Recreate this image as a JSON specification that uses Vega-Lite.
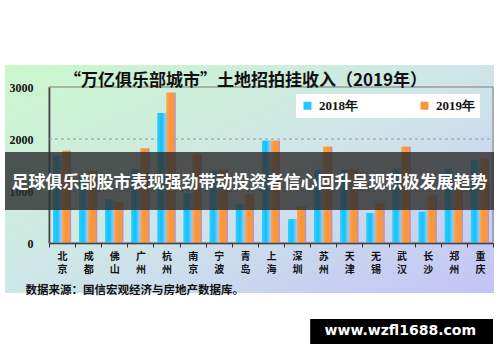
{
  "$schema": "https://vega.github.io/schema/vega-lite/v6.json",
  "width": 489,
  "height": 228,
  "autosize": {"type": "none"},
  "padding": {"left": 5, "top": 65, "right": 6, "bottom": 69},
  "background": "white",
  "config": {
    "font": "Noto Sans CJK SC",
    "view": {
      "stroke": null,
      "fill": {"gradient": "linear", "x1": 0, "y1": 0, "x2": 1, "y2": 1,
        "stops": [{"offset": 0, "color": "#cbf7cc"}, {"offset": 0.5, "color": "#cfe6e8"}, {"offset": 1, "color": "#c3c3f6"}]}
    }
  },
  "title": {
    "text": "“万亿俱乐部城市”土地招拍挂收入（2019年）",
    "anchor": "middle",
    "fontSize": 17,
    "fontWeight": "bold",
    "font": "Noto Sans CJK SC",
    "color": "#111111",
    "offset": -42,
    "baseline": "bottom",
    "dx": -4
  },
  "resolve": {"axis": {"x": "independent", "y": "independent"}},
  "datasets": {
    "land": [
      {"city": "北京", "year": "2018年", "value": 1680}, {"city": "北京", "year": "2019年", "value": 1775},
      {"city": "成都", "year": "2018年", "value": 1300}, {"city": "成都", "year": "2019年", "value": 1390},
      {"city": "佛山", "year": "2018年", "value": 835}, {"city": "佛山", "year": "2019年", "value": 790},
      {"city": "广州", "year": "2018年", "value": 1415}, {"city": "广州", "year": "2019年", "value": 1815},
      {"city": "杭州", "year": "2018年", "value": 2500}, {"city": "杭州", "year": "2019年", "value": 2890},
      {"city": "南京", "year": "2018年", "value": 955}, {"city": "南京", "year": "2019年", "value": 1700},
      {"city": "宁波", "year": "2018年", "value": 1390}, {"city": "宁波", "year": "2019年", "value": 1410},
      {"city": "青岛", "year": "2018年", "value": 740}, {"city": "青岛", "year": "2019年", "value": 940},
      {"city": "上海", "year": "2018年", "value": 1965}, {"city": "上海", "year": "2019年", "value": 1965},
      {"city": "深圳", "year": "2018年", "value": 455}, {"city": "深圳", "year": "2019年", "value": 700},
      {"city": "苏州", "year": "2018年", "value": 1390}, {"city": "苏州", "year": "2019年", "value": 1850},
      {"city": "天津", "year": "2018年", "value": 1400}, {"city": "天津", "year": "2019年", "value": 1410},
      {"city": "无锡", "year": "2018年", "value": 575}, {"city": "无锡", "year": "2019年", "value": 760},
      {"city": "武汉", "year": "2018年", "value": 1430}, {"city": "武汉", "year": "2019年", "value": 1850},
      {"city": "长沙", "year": "2018年", "value": 600}, {"city": "长沙", "year": "2019年", "value": 915},
      {"city": "郑州", "year": "2018年", "value": 1430}, {"city": "郑州", "year": "2019年", "value": 1250},
      {"city": "重庆", "year": "2018年", "value": 1585}, {"city": "重庆", "year": "2019年", "value": 1620}
    ]
  },
  "layer": [
    {
      "data": {"values": [{"g": 1000}, {"g": 2000}]},
      "mark": {"type": "rule", "color": "#9a9a9a", "strokeDash": [3, 3], "strokeWidth": 1},
      "encoding": {
        "x": {"datum": "北京", "bandPosition": 0, "axis": null},
        "x2": {"datum": "重庆", "bandPosition": 1},
        "y": {"field": "g", "type": "quantitative", "axis": null}
      }
    },
    {
      "data": {"name": "land"},
      "mark": {"type": "bar", "strokeWidth": 0},
      "encoding": {
        "x": {
          "field": "city", "type": "nominal", "sort": null,
          "scale": {"domain": ["北京","成都","佛山","广州","杭州","南京","宁波","青岛","上海","深圳","苏州","天津","无锡","武汉","长沙","郑州","重庆"], "range": [44, 488], "paddingInner": 0, "paddingOuter": 0},
          "axis": {
            "orient": "bottom", "offset": -50, "domainColor": "#111111", "domainWidth": 1.5,
            "tickBand": "extent", "tickSize": 4, "tickColor": "#333333", "labelAngle": 0,
            "labelExpr": "[substring(datum.label,0,1), substring(datum.label,1,2)]",
            "labelFontSize": 10, "labelFontWeight": "bold", "labelLineHeight": 13, "labelBaseline": "top",
            "labelPadding": 4, "labelColor": "#111111", "labelFont": "Noto Sans CJK SC",
            "title": "数据来源：国信宏观经济与房地产数据库。", "titleAnchor": "start", "titleAlign": "left",
            "titleX": 20, "titleY": 50, "titleBaseline": "alphabetic", "titleFontSize": 11.5, "titleFontWeight": "bold",
            "titleColor": "#111111", "titleFont": "Noto Sans CJK SC"
          }
        },
        "xOffset": {"field": "year", "type": "nominal", "scale": {"domain": ["2018年", "2019年"], "paddingOuter": 0.45, "paddingInner": 0}},
        "y": {
          "field": "value", "type": "quantitative",
          "scale": {"domain": [0, 3000], "range": [178, 22], "nice": false},
          "axis": {
            "orient": "left", "offset": -44, "values": [0, 1000, 2000, 3000], "format": "d", "grid": false,
            "domainColor": "#111111", "domainWidth": 1.5, "tickSize": 0, "labelPadding": 16,
            "labelFont": "Liberation Serif", "labelFontWeight": "bold", "labelFontSize": 12, "labelColor": "#111111",
            "title": null
          }
        },
        "color": {
          "field": "year", "type": "nominal",
          "scale": {"domain": ["2018年", "2019年"], "range": ["#22c8fb", "#f7963c"]},
          "legend": {
            "orient": "none", "legendX": 291, "legendY": 29, "direction": "horizontal", "title": null,
            "fillColor": "white", "padding": 5, "symbolType": "square", "symbolSize": 64, "symbolStrokeWidth": 0,
            "labelFont": "Liberation Serif", "labelFontWeight": "bold", "labelFontSize": 13, "labelColor": "#111111",
            "columnPadding": 60, "labelOffset": 5
          }
        }
      }
    },
    {
      "data": {"name": "land"},
      "transform": [{"filter": "datum.year === '2018年'"}],
      "mark": {"type": "bar", "strokeWidth": 0,
        "fill": {"gradient": "linear", "x1": 0, "y1": 0, "x2": 1, "y2": 0, "stops": [{"offset": 0, "color": "#33cdfb"}, {"offset": 0.45, "color": "#0cc4fb"}, {"offset": 1, "color": "#b0c8fa"}]}},
      "encoding": {
        "x": {"field": "city", "type": "nominal", "sort": null, "axis": null},
        "xOffset": {"field": "year", "type": "nominal"},
        "y": {"field": "value", "type": "quantitative", "axis": null}
      }
    },
    {
      "data": {"name": "land"},
      "transform": [{"filter": "datum.year === '2019年'"}],
      "mark": {"type": "bar", "strokeWidth": 0,
        "fill": {"gradient": "linear", "x1": 0, "y1": 0, "x2": 1, "y2": 0, "stops": [{"offset": 0, "color": "#f4a860"}, {"offset": 0.4, "color": "#ff9433"}, {"offset": 0.75, "color": "#f79a3e"}, {"offset": 1, "color": "#a98ee6"}]}},
      "encoding": {
        "x": {"field": "city", "type": "nominal", "sort": null, "axis": null},
        "xOffset": {"field": "year", "type": "nominal"},
        "y": {"field": "value", "type": "quantitative", "axis": null}
      }
    },
    {
      "data": {"values": [{}]},
      "mark": {"type": "rect", "fill": null, "fillOpacity": 0, "stroke": "#7a7a7a", "strokeWidth": 1},
      "encoding": {
        "x": {"datum": "北京", "bandPosition": 0, "axis": null},
        "x2": {"datum": "重庆", "bandPosition": 1},
        "y": {"datum": 0, "type": "quantitative", "axis": null},
        "y2": {"datum": 3000}
      }
    },
    {
      "data": {"values": [{"caption": "足球俱乐部股市表现强劲带动投资者信心回升呈现积极发展趋势"}]},
      "layer": [
        {
          "mark": {"type": "rect", "fill": "#2f2f2f", "opacity": 0.82},
          "encoding": {
            "y": {"datum": 1750, "type": "quantitative", "axis": null},
            "y2": {"datum": 635}
          }
        },
        {
          "mark": {"type": "text", "color": "white", "fontSize": 17, "fontWeight": "bold", "font": "Noto Sans CJK SC", "baseline": "middle", "align": "center"},
          "encoding": {
            "y": {"datum": 1154, "type": "quantitative", "axis": null},
            "text": {"field": "caption"}
          }
        }
      ]
    },
    {
      "data": {"values": [{"site": "www.wzfl1688.com"}]},
      "layer": [
        {
          "mark": {"type": "rect", "fill": "black"},
          "encoding": {
            "x": {"datum": "苏州", "bandPosition": 0, "axis": null},
            "x2": {"datum": "重庆", "bandPosition": 1},
            "y": {"datum": -1460, "type": "quantitative", "axis": null},
            "y2": {"datum": -1940}
          }
        },
        {
          "mark": {"type": "text", "color": "white", "fontSize": 14, "fontWeight": "bold", "font": "DejaVu Sans", "baseline": "middle", "align": "center"},
          "encoding": {
            "x": {"datum": "武汉", "bandPosition": 0.45, "axis": null},
            "y": {"datum": -1692, "type": "quantitative", "axis": null},
            "text": {"field": "site"}
          }
        }
      ]
    }
  ]
}
